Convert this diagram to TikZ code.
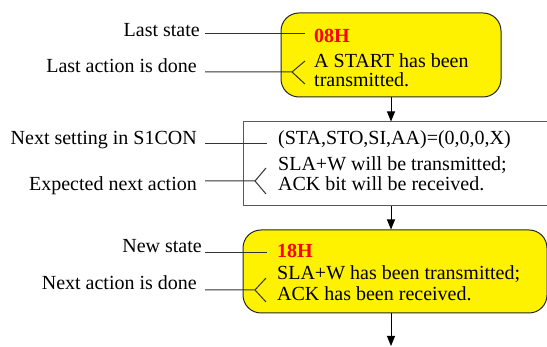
\documentclass[tikz,border=0pt]{standalone}
\usepackage{fontspec}
\setmainfont{Liberation Serif}
\usetikzlibrary{arrows.meta,calc}
\begin{document}
\begin{tikzpicture}[x=1pt,y=-1pt,
  every node/.style={font=\fontsize{20}{20}\selectfont},
  txt/.style={anchor=base west,inner sep=0pt},
  lab/.style={anchor=base east,inner sep=0pt},
  statebox/.style={draw=black!85,line width=1pt,fill=yellow,rounded corners=18pt,inner sep=0pt},
  setbox/.style={draw=black!65,line width=1pt,fill=white,inner sep=0pt},
  conn/.style={draw=black!80,line width=1pt},
  flow/.style={draw=black,line width=0.9pt,-{Triangle[length=10pt,width=8pt]}},
  code/.style={txt,text=red,font=\fontsize{20}{20}\selectfont\bfseries}]
\useasboundingbox (0,0) rectangle (547,347);
% boxes
\node[statebox,minimum width=220pt,minimum height=84pt] (b1) at (391,55) {};
\node[setbox,minimum width=304pt,minimum height=84pt] (b2) at (395,164) {};
\node[statebox,minimum width=304pt,minimum height=83pt] (b3) at (395,271.5) {};
% box texts
\node[code] (t1a) at (314,42.7) {08H};
\node[txt] (t1b) at (314,67.5) {A START has been};
\node[txt] (t1c) at (314,86.5) {transmitted.};
\node[txt] (t2a) at (278,144.3) {(STA,STO,SI,AA)=(0,0,0,X)};
\node[txt] (t2b) at (278,171) {SLA+W will be transmitted;};
\node[txt] (t2c) at (278,190.5) {ACK bit will be received.};
\node[code] (t3a) at (277,257.5) {18H};
\node[txt] (t3b) at (277,280) {SLA+W has been transmitted;};
\node[txt] (t3c) at (277,300.5) {ACK has been received.};
% left labels
\node[lab] (l1) at (200,36.7) {Last state};
\node[lab] (l2) at (197,72.7) {Last action is done};
\node[lab] (l3) at (197,145) {Next setting in S1CON};
\node[lab] (l4) at (197,191) {Expected next action};
\node[lab] (l5) at (202,253) {New state};
\node[lab] (l6) at (197,290) {Next action is done};
% connector points
\coordinate (p1a) at (205,34);  \coordinate (p1b) at (305,34);
\coordinate (p2a) at (205,72);  \coordinate (p2v) at (292,72);
\coordinate (p2u) at (305,61);  \coordinate (p2d) at (305,84);
\coordinate (p3a) at (205,144); \coordinate (p3b) at (267,144);
\coordinate (p4a) at (205,181); \coordinate (p4v) at (255,181);
\coordinate (p4u) at (266,168); \coordinate (p4d) at (266,194);
\coordinate (p5a) at (205,253); \coordinate (p5b) at (267,253);
\coordinate (p6a) at (205,290); \coordinate (p6v) at (255,290);
\coordinate (p6u) at (266,278); \coordinate (p6d) at (266,302);
\draw[conn] (p1a) -- (p1b);
\draw[conn] (p2a) -- (p2v) (p2u) -- (p2v) -- (p2d);
\draw[conn] (p3a) -- (p3b);
\draw[conn] (p4a) -- (p4v) (p4u) -- (p4v) -- (p4d);
\draw[conn] (p5a) -- (p5b);
\draw[conn] (p6a) -- (p6v) (p6u) -- (p6v) -- (p6d);
% flow arrows
\coordinate (endp) at (391,346);
\draw[flow] (b1.south) -- (b1.south |- b2.north);
\draw[flow] (b2.south -| b1.south) -- (b1.south |- b3.north);
\draw[flow] (b3.south -| b1.south) -- (endp);
\end{tikzpicture}
\end{document}
